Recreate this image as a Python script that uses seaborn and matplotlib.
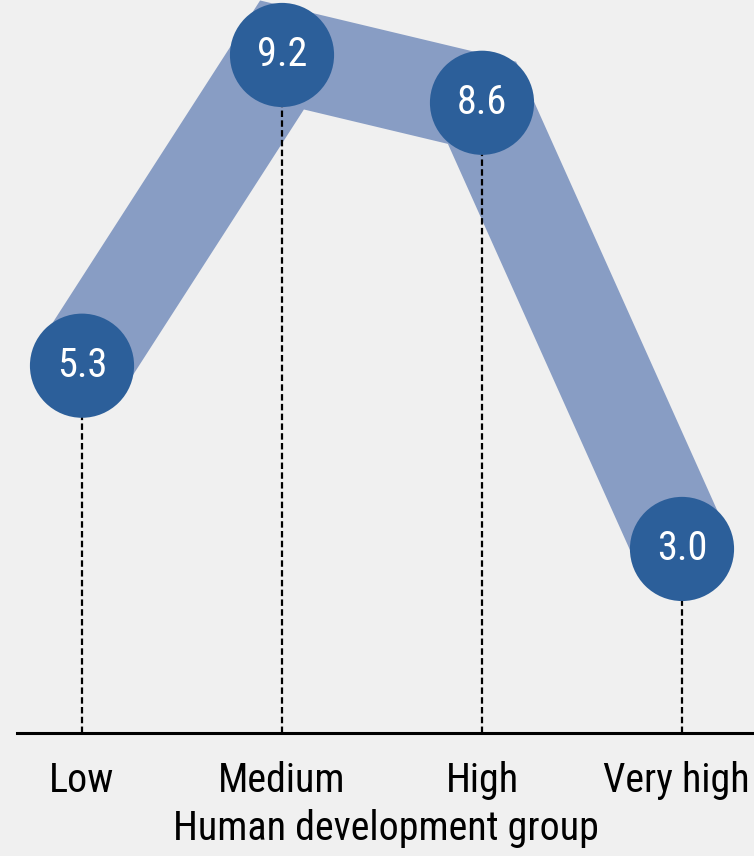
import matplotlib
matplotlib.use("Agg")
import matplotlib.pyplot as plt
from matplotlib import font_manager as fm
from matplotlib.transforms import offset_copy
import seaborn as sns
import pandas as pd

categories = ["Low", "Medium", "High", "Very high"]
values = [5.3, 9.2, 8.6, 3.0]
value_labels = ["5.3", "9.2", "8.6", "3.0"]
xlabel = "Human development group"

sns.set_style("white")

# pick a condensed face if one is installed
family, stretch, big, small = "Roboto", "normal", 26, 26
names = {f.name for f in fm.fontManager.ttflist}
cond = [f for f in fm.fontManager.ttflist
        if f.stretch in ("condensed", "semi-condensed", 300, "extra-condensed")
        or "Condensed" in f.name or "Narrow" in f.name]
if "Roboto Condensed" in names:
    family, stretch, big, small = "Roboto Condensed", "normal", 31, 29
elif "Liberation Sans Narrow" in names:
    family, stretch, big, small = "Liberation Sans Narrow", "normal", 31, 29
elif cond:
    family, stretch, big, small = cond[0].name, cond[0].stretch, 29, 27
plt.rcParams['font.family'] = [family, 'DejaVu Sans']
plt.rcParams['font.stretch'] = stretch
plt.rcParams['text.color'] = 'black'
plt.rcParams['xtick.color'] = 'black'
plt.rcParams['axes.labelcolor'] = 'black'

BG = "#f0f0f0"
BAND = "#889dc4"
CIRCLE = "#2c5f9a"

df = pd.DataFrame({"group": categories, "value": values, "pos": range(len(categories))})

fig = plt.figure(figsize=(7.54, 8.56), dpi=100, facecolor=BG)
ax = fig.add_axes([17/754, 123/856, 1 - 17/754, 1 - 123/856])
ax.set_facecolor(BG)

sns.lineplot(data=df, x="pos", y="value", ax=ax, color=BAND, lw=69,
             solid_capstyle="butt", solid_joinstyle="miter", zorder=1, clip_on=False)
for p, v in zip(df["pos"], df["value"]):
    ax.plot([p, p], [0.69, v], color="black", lw=1.6, ls=(0, (2.9, 1.5)), zorder=2)
sns.scatterplot(data=df, x="pos", y="value", ax=ax, s=75**2, color=CIRCLE,
                edgecolor="none", zorder=3, clip_on=False, legend=False)
for p, v, t in zip(df["pos"], df["value"], value_labels):
    ax.text(p, v, t, ha="center", va="center", color="white", fontsize=small, zorder=4)

ax.set_xlim(-0.325, 3.36)
ax.set_ylim(0.69, 9.89)
ax.set_xticks(df["pos"])
ax.set_xticklabels(categories, fontsize=big)
ax.set_yticks([])
ax.tick_params(axis="x", length=0, pad=20)
ax.set_xlabel(xlabel, fontsize=big, labelpad=7)
ax.set_ylabel("")
for s in ["top", "right", "left"]:
    ax.spines[s].set_visible(False)
ax.spines["bottom"].set_color("black")
ax.spines["bottom"].set_linewidth(2.2)

# fit the text size so the axis title is about as wide as in the reference
fig.canvas.draw()
w = ax.xaxis.label.get_window_extent().width
new = big * 425.0 / w
ax.xaxis.label.set_fontsize(new)
for lab in ax.get_xticklabels():
    lab.set_fontsize(new)
fig.canvas.draw()
lab = ax.get_xticklabels()[-1]
bb = lab.get_window_extent()
over = bb.x1 - (fig.bbox.width - 4)
if over > 0:
    lab.set_transform(offset_copy(lab.get_transform(), fig=fig, x=-over, units="dots"))

fig.savefig("out.png", dpi=100, facecolor=BG)
